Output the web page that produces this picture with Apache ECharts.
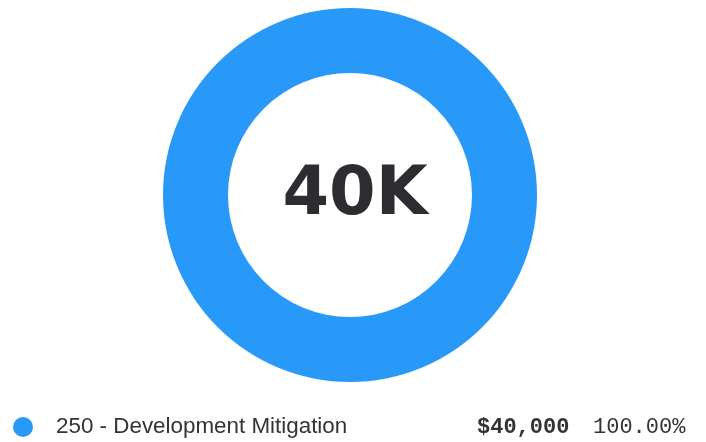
<!DOCTYPE html>
<html>
<head>
<meta charset="utf-8">
<script src="https://cdn.jsdelivr.net/npm/echarts@6/dist/echarts.min.js"></script>
<style>
  html, body { margin: 0; padding: 0; background: #fff; }
  #chart { width: 706px; height: 442px; }
</style>
</head>
<body>
<div id="chart"></div>
<script>
var categories = ['250 - Development Mitigation'];
var values = [40000];
var centerLabel = '40K';

var total = values.reduce(function (a, b) { return a + b; }, 0);

function money(v) {
    return '$' + v.toLocaleString('en-US');
}

var chart = echarts.init(document.getElementById('chart'));

chart.setOption({
    animation: false,
    color: ['#2999f9'],
    graphic: [{
        type: 'text',
        style: {
            text: centerLabel,
            x: 355,
            y: 197,
            align: 'center',
            verticalAlign: 'middle',
            fill: '#2c2d30',
            font: 'bold 67px "DejaVu Sans", sans-serif'
        }
    }],
    legend: {
        orient: 'vertical',
        left: 13,
        top: 416,
        padding: 0,
        icon: 'circle',
        itemWidth: 20,
        itemHeight: 20,
        selectedMode: false,
        data: categories,
        formatter: function (name) {
            var i = categories.indexOf(name);
            var pct = (values[i] / total * 100).toFixed(2) + '%';
            return '{name|' + name + '}{val|' + money(values[i]) + '}{pct|' + pct + '}';
        },
        textStyle: {
            rich: {
                name: {
                    fontFamily: '"Liberation Sans", Arial, sans-serif',
                    fontSize: 22.4,
                    lineHeight: 20,
                    color: '#333',
                    width: 421,
                    padding: [0, 0, 0, 18]
                },
                val: {
                    fontFamily: '"Liberation Mono", monospace',
                    fontWeight: 'bold',
                    fontSize: 22,
                    lineHeight: 20,
                    color: '#333',
                    width: 116
                },
                pct: {
                    fontFamily: '"Liberation Mono", monospace',
                    fontSize: 22,
                    lineHeight: 20,
                    color: '#333'
                }
            }
        }
    },
    series: [{
        type: 'pie',
        center: [350, 195],
        radius: [122, 187],
        label: { show: false },
        labelLine: { show: false },
        emphasis: { disabled: true },
        data: categories.map(function (c, i) {
            return { name: c, value: values[i] };
        })
    }]
});
</script>
</body>
</html>
